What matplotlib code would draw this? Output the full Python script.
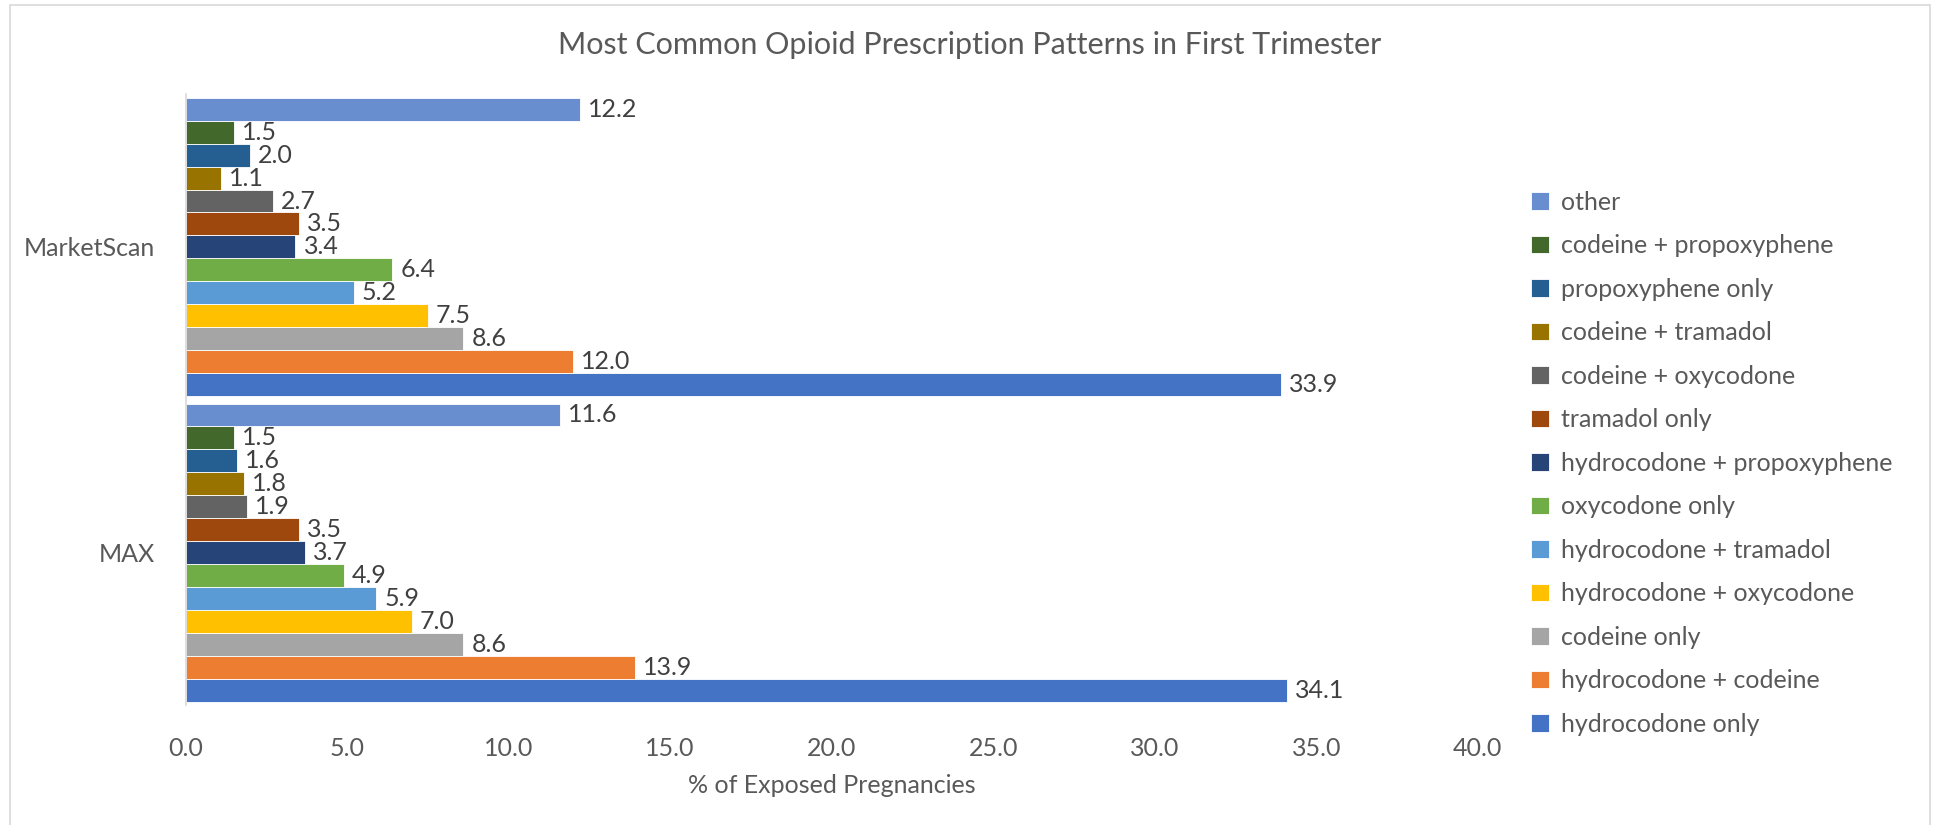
import numpy as np
import matplotlib
matplotlib.use("Agg")
import matplotlib.pyplot as plt
from matplotlib.patches import Rectangle

plt.rcParams['font.family'] = ['Lato', 'DejaVu Sans']

# categories bottom -> top
groups = ["MAX", "MarketScan"]

# series in Excel order (first series drawn at the bottom of each group)
series_names = [
    "hydrocodone only", "hydrocodone + codeine", "codeine only",
    "hydrocodone + oxycodone", "hydrocodone + tramadol", "oxycodone only",
    "hydrocodone + propoxyphene", "tramadol only", "codeine + oxycodone",
    "codeine + tramadol", "propoxyphene only", "codeine + propoxyphene", "other",
]
max_vals = [34.1, 13.9, 8.6, 7.0, 5.9, 4.9, 3.7, 3.5, 1.9, 1.8, 1.6, 1.5, 11.6]
marketscan_vals = [33.9, 12.0, 8.6, 7.5, 5.2, 6.4, 3.4, 3.5, 2.7, 1.1, 2.0, 1.5, 12.2]
colors = ["#4472C4", "#ED7D31", "#A5A5A5", "#FFC000", "#5B9BD5", "#70AD47",
          "#264478", "#9E480E", "#636363", "#997300", "#255E91", "#43682B", "#698ED0"]

txt = "#595959"
fig = plt.figure(figsize=(19.39, 8.25), dpi=100)
ax = fig.add_axes([0.0957, 0.145, 0.6665, 0.741])

n = len(series_names)
h = 0.075
y0 = np.arange(len(groups))
handles = []
for i, name in enumerate(series_names):
    vals = [max_vals[i], marketscan_vals[i]]
    ys = y0 - n * h / 2 + h * (i + 0.5)
    b = ax.barh(ys, vals, height=h, color=colors[i], label=name,
                edgecolor="white", linewidth=0.6)
    handles.append(b)
    for y, v in zip(ys, vals):
        ax.text(v + 0.25, y, f"{v:.1f}", va="center", ha="left",
                fontsize=18, color="#404040")

ax.set_xlim(0, 40)
ax.set_ylim(-0.5, 1.5)
ax.set_xticks(np.arange(0, 45, 5))
ax.set_xticklabels([f"{t:.1f}" for t in np.arange(0, 45, 5)])
ax.set_yticks(y0)
ax.set_yticklabels(groups)
ax.tick_params(axis="both", length=0, labelsize=18, colors=txt)
ax.tick_params(axis="x", pad=23)
ax.tick_params(axis="y", pad=22)
for s in ["top", "right", "bottom"]:
    ax.spines[s].set_visible(False)
ax.spines["left"].set_color("#D9D9D9")
ax.spines["left"].set_linewidth(1.2)
ax.set_xlabel("% of Exposed Pregnancies", fontsize=18, color=txt, labelpad=10)

fig.suptitle("Most Common Opioid Prescription Patterns in First Trimester",
             fontsize=22, color=txt, y=0.963)

leg = fig.legend(handles[::-1], series_names[::-1], loc="upper left",
                 bbox_to_anchor=(0.778, 0.796), frameon=False, fontsize=18,
                 handlelength=0.7, handleheight=0.7, handletextpad=0.5,
                 labelspacing=0.82, labelcolor=txt)

# chart area border
fig.patches.append(Rectangle((10 / 1939, -0.01), 1920 / 1939, 1 - 5 / 825 + 0.01,
                             transform=fig.transFigure, fill=False,
                             edgecolor="#D9D9D9", linewidth=1.2))

fig.savefig("out.png", dpi=100)
